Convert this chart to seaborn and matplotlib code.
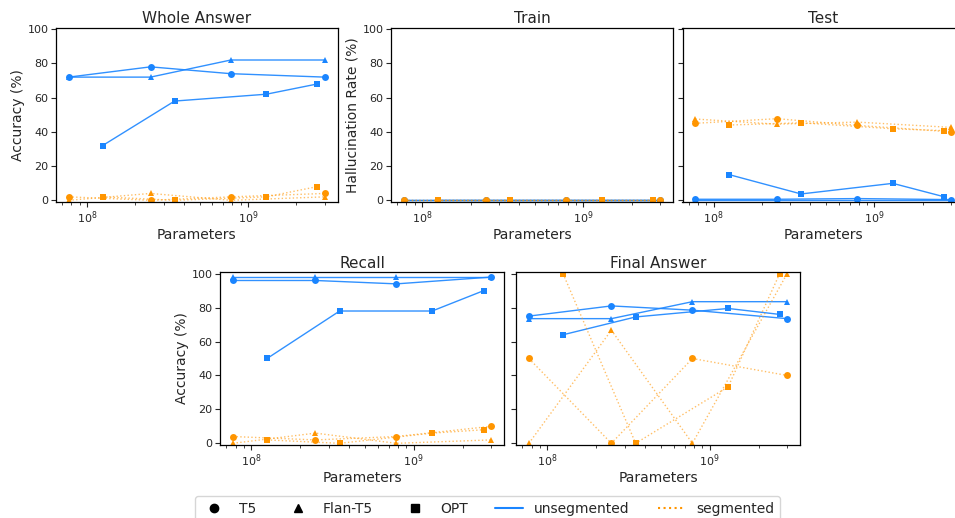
import numpy as np
import pandas as pd
import matplotlib
matplotlib.use("Agg")
import matplotlib.pyplot as plt
import seaborn as sns
from matplotlib.lines import Line2D
from matplotlib.colors import to_rgba

# ---------------- data ----------------
models = ["T5", "Flan-T5", "OPT"]
params_t5 = [77e6, 248e6, 783e6, 3e9]
params_flan = [77e6, 248e6, 783e6, 3e9]
params_opt = [125e6, 350e6, 1.3e9, 2.7e9]

# Whole Answer accuracy
wa_unseg_t5 = [72, 78, 74, 72]
wa_unseg_flan = [72, 72, 82, 82]
wa_unseg_opt = [32, 58, 62, 68]
wa_seg_t5 = [2, 0, 2, 4]
wa_seg_flan = [0, 4, 0, 2]
wa_seg_opt = [2, 0, 2, 8]

# Train hallucination rate
tr_unseg_t5 = [0, 0, 0, 0]
tr_unseg_flan = [0, 0, 0, 0]
tr_unseg_opt = [0, 0, 0, 0]
tr_seg_t5 = [0, 0, 0, 0]
tr_seg_flan = [0, 0, 0, 0]
tr_seg_opt = [0, 0, 0, 0]

# Test hallucination rate
te_unseg_t5 = [0.6, 0.6, 1.0, 0.4]
te_unseg_flan = [0.4, 0.4, 0.4, 0.4]
te_unseg_opt = [15, 3.7, 9.9, 2.1]
te_seg_t5 = [45, 47.7, 43.8, 40]
te_seg_flan = [47.5, 44.5, 45.7, 42.6]
te_seg_opt = [44, 45.3, 41.8, 40.7]

# Recall accuracy
re_unseg_t5 = [96, 96, 94, 98]
re_unseg_flan = [98, 98, 98, 98]
re_unseg_opt = [50, 78, 78, 90]
re_seg_t5 = [4, 2, 4, 10]
re_seg_flan = [0, 6, 0, 2]
re_seg_opt = [2, 0, 6, 8]

# Final Answer accuracy
fa_unseg_t5 = [75, 81, 78.5, 73.5]
fa_unseg_flan = [73.5, 73.5, 83.5, 83.5]
fa_unseg_opt = [64, 74.5, 79.5, 76]
fa_seg_t5 = [50, 0, 50, 40]
fa_seg_flan = [0, 66.7, 0, 100]
fa_seg_opt = [100, 0, 33.3, 100]

BLUE = "#1a85ff"
ORANGE = "#ff9500"
markers = {"T5": "o", "Flan-T5": "^", "OPT": "s"}
xs = {"T5": params_t5, "Flan-T5": params_flan, "OPT": params_opt}

panels = {
    "Whole Answer": ({"T5": wa_unseg_t5, "Flan-T5": wa_unseg_flan, "OPT": wa_unseg_opt},
                     {"T5": wa_seg_t5, "Flan-T5": wa_seg_flan, "OPT": wa_seg_opt}),
    "Train": ({"T5": tr_unseg_t5, "Flan-T5": tr_unseg_flan, "OPT": tr_unseg_opt},
              {"T5": tr_seg_t5, "Flan-T5": tr_seg_flan, "OPT": tr_seg_opt}),
    "Test": ({"T5": te_unseg_t5, "Flan-T5": te_unseg_flan, "OPT": te_unseg_opt},
             {"T5": te_seg_t5, "Flan-T5": te_seg_flan, "OPT": te_seg_opt}),
    "Recall": ({"T5": re_unseg_t5, "Flan-T5": re_unseg_flan, "OPT": re_unseg_opt},
               {"T5": re_seg_t5, "Flan-T5": re_seg_flan, "OPT": re_seg_opt}),
    "Final Answer": ({"T5": fa_unseg_t5, "Flan-T5": fa_unseg_flan, "OPT": fa_unseg_opt},
                     {"T5": fa_seg_t5, "Flan-T5": fa_seg_flan, "OPT": fa_seg_opt}),
}

sns.set_style("ticks")
plt.rcParams["font.family"] = ["DejaVu Sans"]

W, H = 955, 518
fig = plt.figure(figsize=(W / 100, H / 100), dpi=100)

def rect(x0, y0, x1, y1):
    return [x0 / W, 1 - y1 / H, (x1 - x0) / W, (y1 - y0) / H]

layout = {
    "Whole Answer": rect(56, 27.5, 337.5, 202),
    "Train": rect(391, 27.5, 673, 202),
    "Test": rect(682.5, 27.5, 964, 202),
    "Recall": rect(220, 272, 504, 445),
    "Final Answer": rect(516, 272, 800, 445),
}
ylabels = {"Whole Answer": "Accuracy (%)", "Train": "Hallucination Rate (%)",
           "Test": None, "Recall": "Accuracy (%)", "Final Answer": None}

for name, (unseg, seg) in panels.items():
    ax = fig.add_axes(layout[name])
    for m in models:
        sns.lineplot(x=xs[m], y=unseg[m], ax=ax, marker=markers[m], color=BLUE,
                     linewidth=1.0, markersize=5, markeredgewidth=0, sort=False)
        ln = ax.lines[-1]
        ln.set_color(to_rgba(BLUE, 0.9))
        ln.set_markerfacecolor(BLUE)
        ln.set_markeredgecolor(BLUE)
    for m in models:
        sns.lineplot(x=xs[m], y=seg[m], ax=ax, marker=markers[m], color=ORANGE,
                     linewidth=1.0, linestyle=":", markersize=5, markeredgewidth=0,
                     sort=False)
        ln = ax.lines[-1]
        ln.set_color(to_rgba(ORANGE, 0.6))
        ln.set_markerfacecolor(ORANGE)
        ln.set_markeredgecolor(ORANGE)
    ax.set_xscale("log")
    ax.set_ylim(-1, 101)
    ax.set_yticks([0, 20, 40, 60, 80, 100])
    ax.set_title(name, fontsize=11, pad=3)
    ax.set_xlabel("Parameters", fontsize=10, labelpad=1)
    if ylabels[name]:
        ax.set_ylabel(ylabels[name], fontsize=10, labelpad=2)
    else:
        ax.set_ylabel("")
        ax.set_yticklabels([])
    ax.tick_params(axis="both", which="major", labelsize=8, length=3.5, width=0.8, pad=2)
    ax.tick_params(axis="x", which="minor", length=2, width=0.6)
    for s in ax.spines.values():
        s.set_visible(True)
        s.set_linewidth(0.9)
        s.set_color("black")

handles = [
    Line2D([], [], marker="o", color="black", linestyle="None", markersize=6, label="T5"),
    Line2D([], [], marker="^", color="black", linestyle="None", markersize=6, label="Flan-T5"),
    Line2D([], [], marker="s", color="black", linestyle="None", markersize=6, label="OPT"),
    Line2D([], [], color=BLUE, linewidth=1.5, label="unsegmented"),
    Line2D([], [], color=ORANGE, linewidth=1.5, linestyle=":", label="segmented"),
]
fig.legend(handles=handles, loc="upper center", bbox_to_anchor=(487.5 / W, 1 - 496 / H),
           ncol=5, fontsize=10, frameon=True, columnspacing=2.0, handlelength=2.0,
           borderaxespad=0, edgecolor="#cccccc", fancybox=True)

fig.savefig("out.png", dpi=100)
